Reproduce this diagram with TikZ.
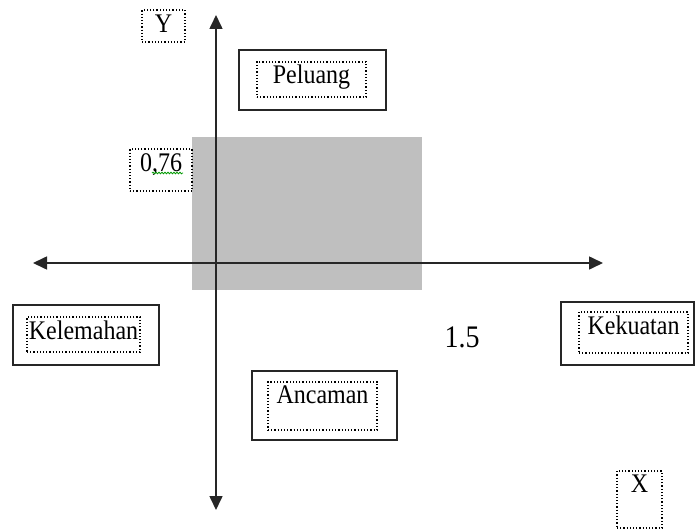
\documentclass[tikz,border=0pt]{standalone}
\usepackage{fontspec}
\setmainfont{Liberation Serif}
\usetikzlibrary{arrows.meta,decorations.pathmorphing}

\tikzset{
    axis/.style={line width=1.6pt, black!85, {Triangle[length=14pt,width=13pt]}-{Triangle[length=14pt,width=13pt]}},
    outerbox/.style={draw, line width=1.3pt, black!85, inner sep=0pt},
    innerbox/.style={draw, dotted, line width=1.2pt, inner sep=0pt},
    lbl/.style={font=\fontsize{24}{26}\selectfont, inner sep=0pt, yscale=1.12},
}

\begin{document}
\begin{tikzpicture}[x=1pt,y=-1pt]
        \useasboundingbox (0,0) rectangle (695,529);
        % shaded area
        \fill[gray!50] (192,137) rectangle (422,290);
        % axes
        \coordinate (left) at (33,263);
        \coordinate (right) at (603,263);
        \coordinate (top) at (216,15);
        \coordinate (bottom) at (216,510);
        \draw[axis] (left) -- (right);
        \draw[axis] (bottom) -- (top);
        % axis names
        \node[innerbox, minimum width=43, minimum height=32] (ybox) at (163.5,26) {};
        \node[lbl, anchor=north] (ylbl) at ([yshift=-5pt]ybox.north) {Y};
        \node[innerbox, minimum width=45, minimum height=57] (xbox) at (639.5,499.5) {};
        \node[lbl, anchor=north] (xlbl) at ([yshift=-4pt]xbox.north) {X};
        % values
        \node[innerbox, minimum width=62, minimum height=42] (valbox) at (161,170) {};
        \node[lbl, anchor=north] (val) at ([yshift=-5pt]valbox.north) {0,76};
        \draw[green!60!black, line width=0.8pt, decorate, decoration={snake, segment length=3pt, amplitude=0.8pt}]
            (152,173) -- (183,173);
        \node[lbl, font=\fontsize{28}{30}\selectfont, anchor=base] (valx) at (462,347) {1.5};
        % quadrants
        \node[outerbox, minimum width=147, minimum height=60] (peluangout) at (312.5,80) {};
        \node[innerbox, minimum width=109, minimum height=35] (peluangin) at (311.5,79.5) {};
        \node[lbl, anchor=north] (peluang) at ([yshift=-3pt]peluangin.north) {Peluang};
        \node[outerbox, minimum width=146, minimum height=60] (kelemahanout) at (86,335) {};
        \node[innerbox, minimum width=113, minimum height=35] (kelemahanin) at (83.5,334.5) {};
        \node[lbl, anchor=north] (kelemahan) at ([yshift=-4pt]kelemahanin.north) {Kelemahan};
        \node[outerbox, minimum width=133, minimum height=63] (kekuatanout) at (627.5,333.5) {};
        \node[innerbox, minimum width=109, minimum height=41] (kekuatanin) at (633.5,332.5) {};
        \node[lbl, anchor=north] (kekuatan) at ([yshift=-4pt]kekuatanin.north) {Kekuatan};
        \node[outerbox, minimum width=145, minimum height=69] (ancamanout) at (324.5,405.5) {};
        \node[innerbox, minimum width=109, minimum height=48] (ancamanin) at (322.5,406) {};
        \node[lbl, anchor=north] (ancaman) at ([yshift=-4pt]ancamanin.north) {Ancaman};
\end{tikzpicture}
\end{document}
